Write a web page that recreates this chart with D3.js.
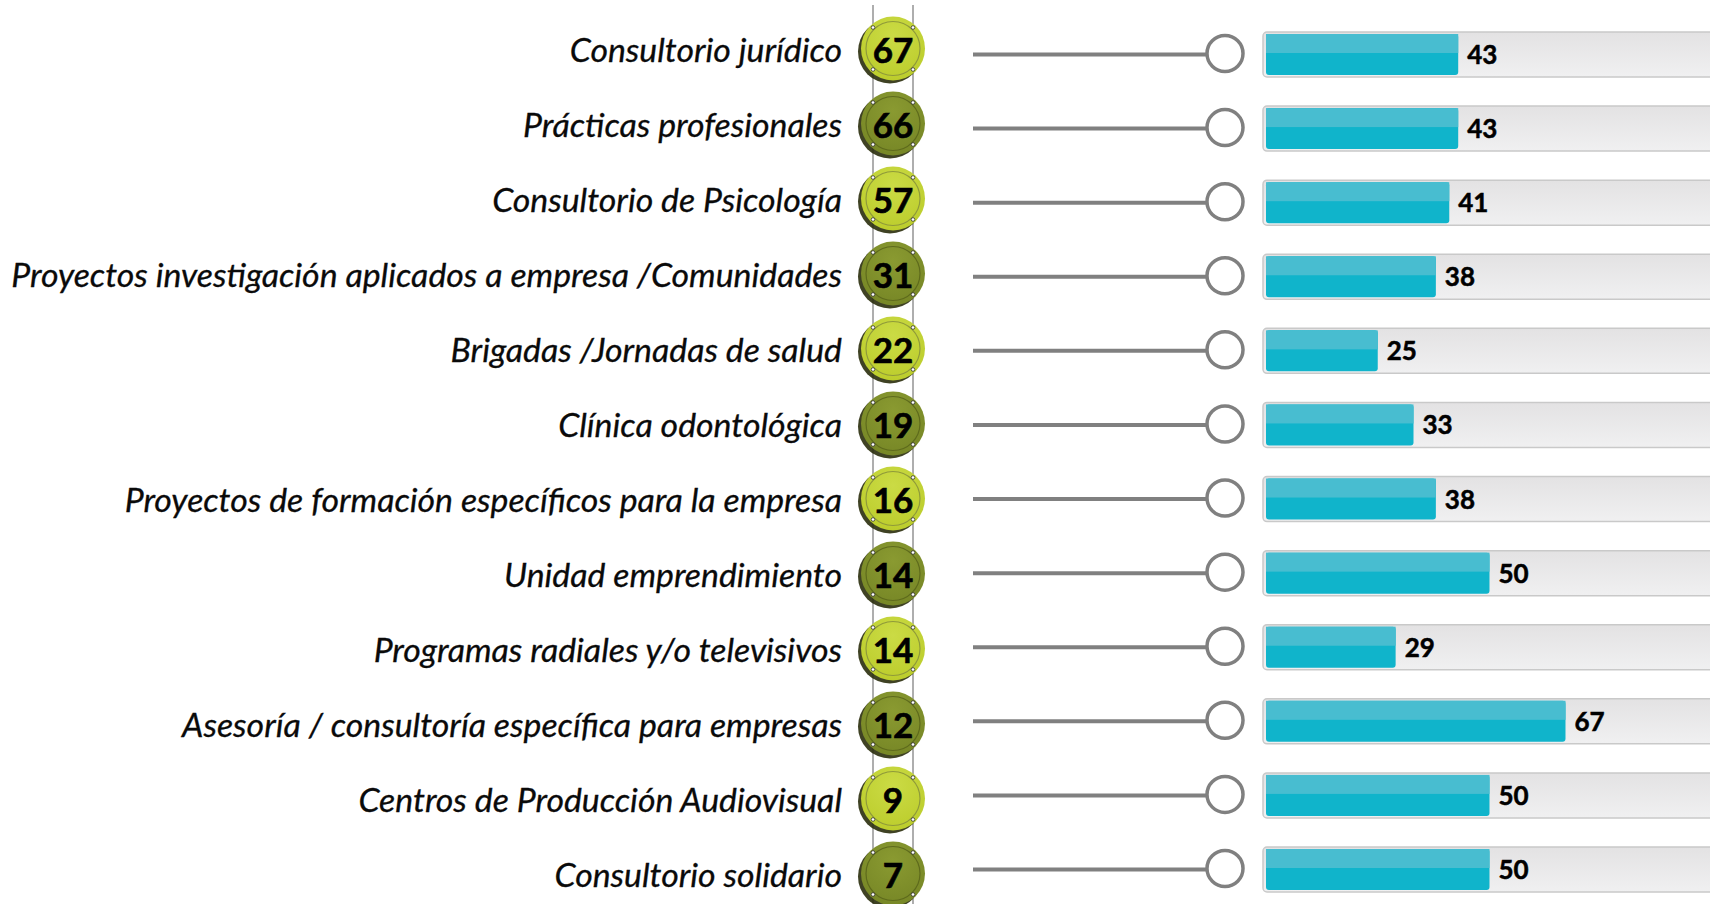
<!DOCTYPE html>
<html>
<head>
<meta charset="utf-8">
<script src="https://cdn.jsdelivr.net/npm/d3@7"></script>
<style>
  html, body { margin: 0; padding: 0; background: #fff; }
  svg { display: block; }
</style>
</head>
<body>
<div id="chart"></div>
<script>
// Data
const categories = [
  'Consultorio jurídico',
  'Prácticas profesionales',
  'Consultorio de Psicología',
  'Proyectos investigación aplicados a empresa /Comunidades',
  'Brigadas /Jornadas de salud',
  'Clínica odontológica',
  'Proyectos de formación específicos para la empresa',
  'Unidad emprendimiento',
  'Programas radiales y/o televisivos',
  'Asesoría / consultoría específica para empresas',
  'Centros de Producción Audiovisual',
  'Consultorio solidario'
];
const badgeValues = [67, 66, 57, 31, 22, 19, 16, 14, 14, 12, 9, 7];
const barValues = [43, 43, 41, 38, 25, 33, 38, 50, 29, 67, 50, 50];

const W = 1710, H = 904;
const labelFont = 'Lato, "Open Sans", "DejaVu Sans", sans-serif';

const svg = d3.select('#chart')
  .append('svg')
  .attr('width', W)
  .attr('height', H);

const defs = svg.append('defs');

// gradients
const bgGrad = defs.append('linearGradient')
  .attr('id', 'bgGrad').attr('x1', 0).attr('y1', 0).attr('x2', 0).attr('y2', 1);
bgGrad.append('stop').attr('offset', '0%').attr('stop-color', '#e3e2e3');
bgGrad.append('stop').attr('offset', '100%').attr('stop-color', '#f0f0f1');

function badgeGrad(id, top, bottom) {
  const g = defs.append('radialGradient')
    .attr('id', id).attr('cx', '50%').attr('cy', '30%').attr('r', '70%');
  g.append('stop').attr('offset', '0%').attr('stop-color', top);
  g.append('stop').attr('offset', '100%').attr('stop-color', bottom);
}
badgeGrad('lightGrad', '#cbdb45', '#bccd2c');
badgeGrad('darkGrad', '#8a9a31', '#778726');

// scales
const rows = d3.range(categories.length);
const yBadge = d3.scalePoint().domain(rows).range([48.5, 873.5]);
const yRow = d3.scalePoint().domain(rows).range([54.5, 869.5]);
const x = d3.scaleLinear().domain([0, 100]).range([1266, 1713]);

const badgeX = 893, badgeR = 32;
const lineX1 = 973, knobX = 1225, knobR = 18;

// labels (size fitted so the longest label spans like the reference)
const labels = svg.append('g')
  .selectAll('text')
  .data(categories)
  .join('text')
  .attr('x', 842)
  .attr('y', (d, i) => yBadge(i) + 13)
  .attr('text-anchor', 'end')
  .style('font-family', labelFont)
  .style('font-style', 'italic')
  .style('font-size', '30px')
  .style('fill', '#0a0a0a')
  .style('stroke', '#0a0a0a')
  .style('stroke-width', 0.3)
  .text((d) => d);

let maxW = 0;
labels.each(function () { maxW = Math.max(maxW, this.getComputedTextLength()); });
const fitSize = 30 * 831 / maxW;
labels.style('font-size', fitSize + 'px');

// hanging strings
svg.append('g')
  .selectAll('line')
  .data([-20, 20])
  .join('line')
  .attr('x1', (d) => badgeX + d)
  .attr('x2', (d) => badgeX + d)
  .attr('y1', 5)
  .attr('y2', H)
  .style('stroke', '#9a9a9a')
  .style('stroke-width', 1.6);

// badges
const badge = svg.append('g')
  .selectAll('g')
  .data(badgeValues)
  .join('g')
  .attr('transform', (d, i) => `translate(${badgeX},${yBadge(i)})`);

badge.append('circle')
  .attr('cx', -3).attr('cy', 3).attr('r', badgeR)
  .style('fill', '#2a2d0c')
  .style('opacity', 0.9);

badge.append('circle')
  .attr('r', badgeR)
  .style('fill', (d, i) => (i % 2 === 0 ? 'url(#lightGrad)' : 'url(#darkGrad)'));

badge.append('circle')
  .attr('r', 27)
  .style('fill', 'none')
  .style('stroke', (d, i) => (i % 2 === 0 ? '#8f9a3a' : '#5e6a1c'))
  .style('stroke-width', 1.2);

badge.selectAll('circle.hook')
  .data([[-20, -21], [20, -21], [-20, 21], [20, 21]])
  .join('circle')
  .attr('class', 'hook')
  .attr('cx', (d) => d[0])
  .attr('cy', (d) => d[1])
  .attr('r', 1.8)
  .style('fill', '#fff')
  .style('stroke', '#333')
  .style('stroke-width', 0.8);

badge.append('text')
  .attr('y', 14)
  .attr('text-anchor', 'middle')
  .style('font-family', labelFont)
  .style('font-weight', 'bold')
  .style('font-size', '35px')
  .style('fill', '#000')
  .style('stroke', '#000')
  .style('stroke-width', 0.6)
  .text((d) => d);

// connector lines and knobs
const conn = svg.append('g')
  .selectAll('g')
  .data(barValues)
  .join('g');

conn.append('line')
  .attr('x1', lineX1)
  .attr('x2', knobX - knobR)
  .attr('y1', (d, i) => yRow(i))
  .attr('y2', (d, i) => yRow(i))
  .style('stroke', '#808080')
  .style('stroke-width', 4);

conn.append('circle')
  .attr('cx', knobX)
  .attr('cy', (d, i) => yRow(i) - 1)
  .attr('r', knobR)
  .style('fill', '#fff')
  .style('stroke', '#808080')
  .style('stroke-width', 3.5);

// bars
const bar = svg.append('g')
  .selectAll('g')
  .data(barValues)
  .join('g')
  .attr('transform', (d, i) => `translate(0,${yRow(i)})`);

bar.append('rect')
  .attr('x', 1263)
  .attr('y', -22.5)
  .attr('width', 520)
  .attr('height', 45)
  .attr('rx', 4)
  .style('fill', 'url(#bgGrad)')
  .style('stroke', '#c9c9c9')
  .style('stroke-width', 1.5);

bar.append('rect')
  .attr('x', x(0))
  .attr('y', -20.5)
  .attr('width', (d) => x(d) - x(0))
  .attr('height', 41)
  .attr('rx', 3)
  .style('fill', '#10b4cb');

bar.append('rect')
  .attr('x', x(0))
  .attr('y', -20.5)
  .attr('width', (d) => x(d) - x(0))
  .attr('height', 19)
  .style('fill', '#48bdd0');

bar.append('text')
  .attr('x', (d) => x(d) + 9)
  .attr('y', 9.5)
  .style('font-family', labelFont)
  .style('font-weight', 'bold')
  .style('font-size', '26px')
  .style('fill', '#000')
  .style('stroke', '#000')
  .style('stroke-width', 0.5)
  .text((d) => d);
</script>
</body>
</html>
